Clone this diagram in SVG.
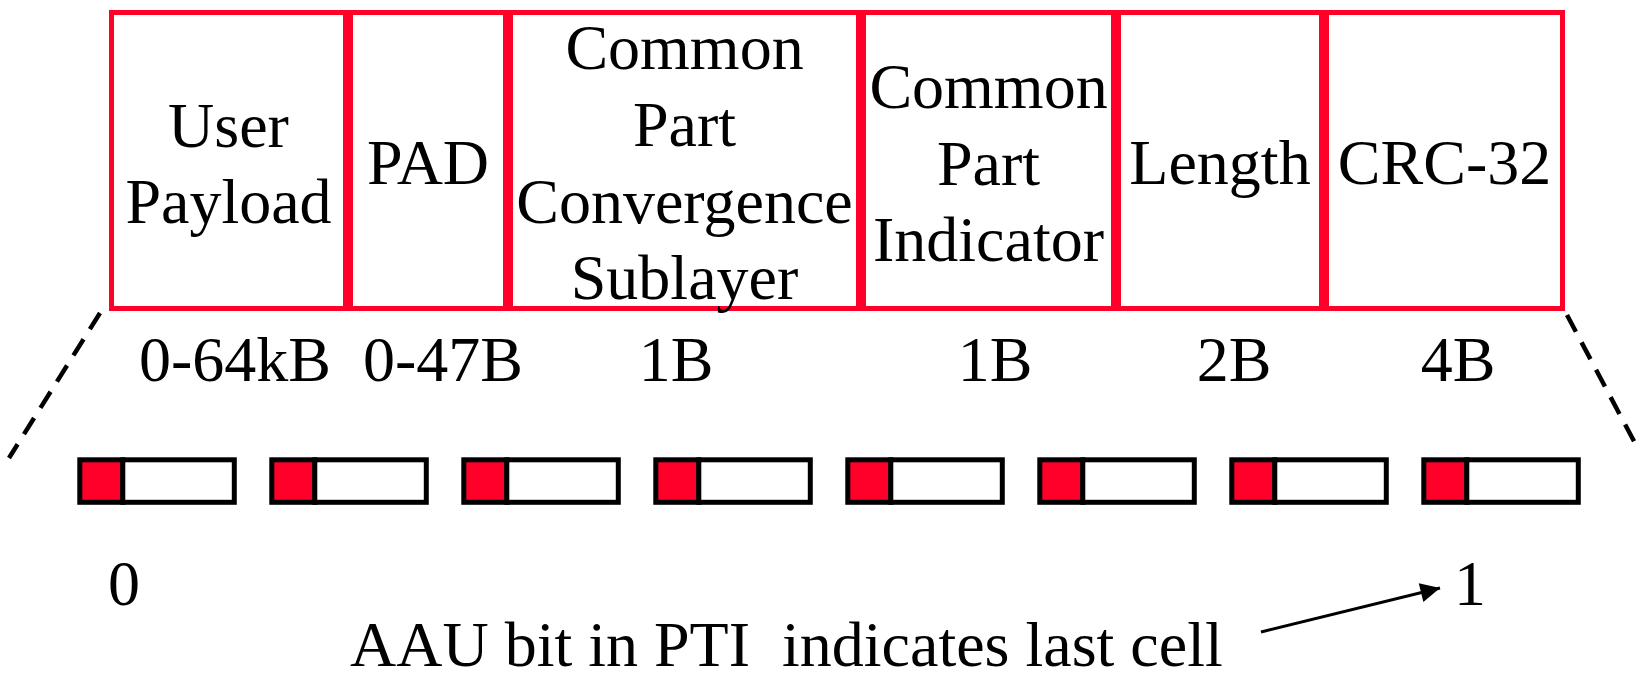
<svg xmlns="http://www.w3.org/2000/svg" width="1637" height="673" viewBox="0 0 1637 673">
  <defs>
    <style>
      .txt { font-family: "Liberation Serif", "Times New Roman", serif; font-size: 64px; fill: #000; white-space: pre; }
      .mid { text-anchor: middle; }
      .field { fill: #fff; stroke: #FF0029; stroke-width: 5; }
      .hdr { fill: #FF0029; stroke: #000; stroke-width: 5; }
      .body { fill: #fff; stroke: #000; stroke-width: 5; }
      .dash { fill: none; stroke: #000; stroke-width: 4.5; stroke-dasharray: 19 12; }
      .arrow { fill: none; stroke: #000; stroke-width: 3; }
    </style>
    <marker id="head" viewBox="0 0 10 10" refX="10" refY="5" markerWidth="8.5" markerHeight="6.5" markerUnits="strokeWidth" orient="auto">
      <path d="M0,0 L10,5 L0,10 Z" fill="#000"/>
    </marker>
    <g id="cell">
      <rect class="hdr" x="2.5" y="2.5" width="43" height="42.5"/>
      <rect class="body" x="45.5" y="2.5" width="111.5" height="42.5"/>
    </g>
  </defs>

  <!-- CPCS-PDU fields -->
  <g id="field-user-payload">
    <rect class="field" x="111.5" y="12.5" width="234" height="296"/>
    <text class="txt mid" x="228.5" y="146.5">User</text>
    <text class="txt mid" x="228.5" y="222.5">Payload</text>
  </g>
  <g id="field-pad">
    <rect class="field" x="350.5" y="12.5" width="155" height="296"/>
    <text class="txt mid" x="428" y="184">PAD</text>
  </g>
  <g id="field-cpcs">
    <rect class="field" x="510.5" y="12.5" width="348" height="296"/>
    <text class="txt mid" x="684.5" y="69">Common</text>
    <text class="txt mid" x="684.5" y="146">Part</text>
    <text class="txt mid" x="684.5" y="222.5">Convergence</text>
    <text class="txt mid" x="684.5" y="299">Sublayer</text>
  </g>
  <g id="field-cpi">
    <rect class="field" x="863.5" y="12.5" width="250" height="296"/>
    <text class="txt mid" x="988.5" y="108">Common</text>
    <text class="txt mid" x="988.5" y="184.5">Part</text>
    <text class="txt mid" x="988.5" y="261">Indicator</text>
  </g>
  <g id="field-length">
    <rect class="field" x="1118.5" y="12.5" width="203" height="296"/>
    <text class="txt mid" x="1220" y="184">Length</text>
  </g>
  <g id="field-crc">
    <rect class="field" x="1326.5" y="12.5" width="236" height="296"/>
    <text class="txt mid" x="1444.5" y="184">CRC-32</text>
  </g>

  <!-- field sizes -->
  <g id="sizes">
    <text class="txt mid" x="235" y="381">0-64kB</text>
    <text class="txt mid" x="443" y="381">0-47B</text>
    <text class="txt mid" x="676" y="381">1B</text>
    <text class="txt mid" x="995" y="381">1B</text>
    <text class="txt mid" x="1234" y="381">2B</text>
    <text class="txt mid" x="1458" y="381">4B</text>
  </g>

  <!-- ATM cells -->
  <g id="cells">
    <use href="#cell" x="77.3" y="457.3"/>
    <use href="#cell" x="269.3" y="457.3"/>
    <use href="#cell" x="461.3" y="457.3"/>
    <use href="#cell" x="653.3" y="457.3"/>
    <use href="#cell" x="845.3" y="457.3"/>
    <use href="#cell" x="1037.3" y="457.3"/>
    <use href="#cell" x="1229.3" y="457.3"/>
    <use href="#cell" x="1421.3" y="457.3"/>
  </g>

  <g id="labels">
    <text class="txt mid" x="124" y="605">0</text>
    <text class="txt mid" x="1470" y="605">1</text>
    <text class="txt" x="350" y="666" xml:space="preserve">AAU bit in PTI  indicates last cell</text>
  </g>

  <!-- connectors -->
  <g id="connectors">
    <line class="dash" x1="100" y1="313" x2="9" y2="458"/>
    <line class="dash" x1="1567" y1="315" x2="1645" y2="462"/>
    <line class="arrow" x1="1261" y1="632" x2="1440" y2="588" marker-end="url(#head)"/>
  </g>
</svg>
